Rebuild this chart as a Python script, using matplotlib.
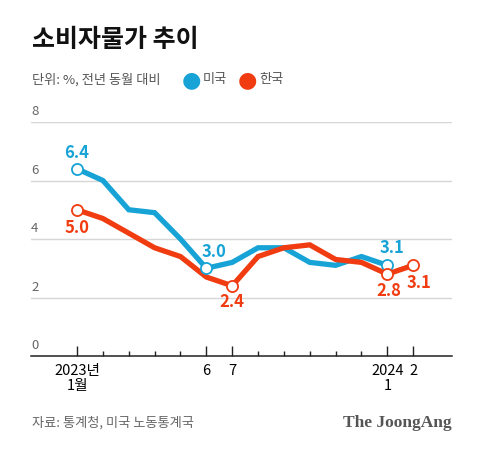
import matplotlib
matplotlib.use("Agg")
import matplotlib.pyplot as plt
from matplotlib.ticker import FixedLocator

plt.rcParams['font.family'] = ['Noto Sans CJK KR', 'DejaVu Sans']

# data: Jan 2023 .. Feb 2024
months = list(range(14))
us_cpi = [6.4, 6.0, 5.0, 4.9, 4.0, 3.0, 3.2, 3.7, 3.7, 3.2, 3.1, 3.4, 3.1]
kr_cpi = [5.0, 4.7, 4.2, 3.7, 3.4, 2.7, 2.4, 3.4, 3.7, 3.8, 3.3, 3.2, 2.8, 3.1]
tick_pos = [0, 5, 6, 12, 13]
tick_labels = ["2023년\n1월", "6", "7", "2024\n1", "2"]
y_grid = [0, 2, 4, 6, 8]

# labelled points: (series, index, text, dx px, dy px)
labels = [
    ("us", 0, "6.4", 0, 16),
    ("kr", 0, "5.0", 0, -18),
    ("us", 5, "3.0", 8, 16),
    ("kr", 6, "2.4", 0, -16),
    ("us", 12, "3.1", 5, 17),
    ("kr", 12, "2.8", 1, -17),
    ("kr", 13, "3.1", 6, -18),
]

blue = '#17a3d6'
red = '#f03c10'

fig = plt.figure(figsize=(4.8, 4.53), dpi=100)
ax = fig.add_axes([31/480, 97/453, 421/480, 234/453])
ax.set_xlim(-1.78, 14.5)
ax.set_ylim(0, 8)

for v in y_grid[1:]:
    ax.axhline(v, color='#d6d6d6', lw=1, zorder=1)
    ax.text(0, v + 0.12, str(v), transform=ax.get_yaxis_transform(),
            ha='left', va='bottom', fontsize=9.5, color='#666666')
ax.text(0, 0.12, "0", transform=ax.get_yaxis_transform(),
        ha='left', va='bottom', fontsize=9.5, color='#666666')

for s in ['top', 'right', 'left']:
    ax.spines[s].set_visible(False)
ax.spines['bottom'].set_color('#222222')
ax.spines['bottom'].set_linewidth(1.1)
ax.set_yticks([])

ax.xaxis.set_major_locator(FixedLocator(tick_pos))
ax.xaxis.set_minor_locator(FixedLocator(months))
ax.set_xticklabels(tick_labels, fontsize=10.5, linespacing=1.1)
ax.tick_params(axis='x', which='major', direction='in', length=7, width=1,
               color='#222222', pad=6)
ax.tick_params(axis='x', which='minor', direction='in', length=3.5, width=1,
               color='#222222')

ax.plot(months[:len(us_cpi)], us_cpi, color=blue, lw=3.8, zorder=3,
        solid_joinstyle='miter')
ax.plot(months, kr_cpi, color=red, lw=3.8, zorder=4, solid_joinstyle='miter')

series = {"us": (us_cpi, blue), "kr": (kr_cpi, red)}
for key, i, txt, dx, dy in labels:
    vals, c = series[key]
    ax.plot(i, vals[i], 'o', ms=8, mfc='white', mec=c, mew=1.3, zorder=5,
            clip_on=False)
    ax.annotate(txt, (i, vals[i]), xytext=(dx * 0.72, dy * 0.72),
                textcoords='offset points', ha='center', va='center',
                fontsize=12, fontweight='bold', color=c, zorder=6)

fig.text(32/480, 1 - 40/453, "소비자물가 추이", fontsize=18, fontweight='black',
         ha='left', va='center', color='#111111')
fig.text(32/480, 1 - 80/453, "단위: %, 전년 동월 대비", fontsize=9.5,
         ha='left', va='center', color='#555555')
fig.text(191/480, 1 - 80/453, "●", fontsize=16, ha='center', va='center',
         color=blue, family='DejaVu Sans')
fig.text(203/480, 1 - 80/453, "미국", fontsize=9.5, ha='left', va='center',
         color='#555555')
fig.text(247/480, 1 - 80/453, "●", fontsize=16, ha='center', va='center',
         color=red, family='DejaVu Sans')
fig.text(259/480, 1 - 80/453, "한국", fontsize=9.5, ha='left', va='center',
         color='#555555')

fig.text(32/480, 1 - 423/453, "자료: 통계청, 미국 노동통계국", fontsize=9.5,
         ha='left', va='center', color='#666666')
fig.text(452/480, 1 - 423/453, "The JoongAng", fontsize=12.5,
         fontweight='bold', family='Liberation Serif', ha='right',
         va='center', color='#555555')

fig.savefig("out.png", dpi=100)
